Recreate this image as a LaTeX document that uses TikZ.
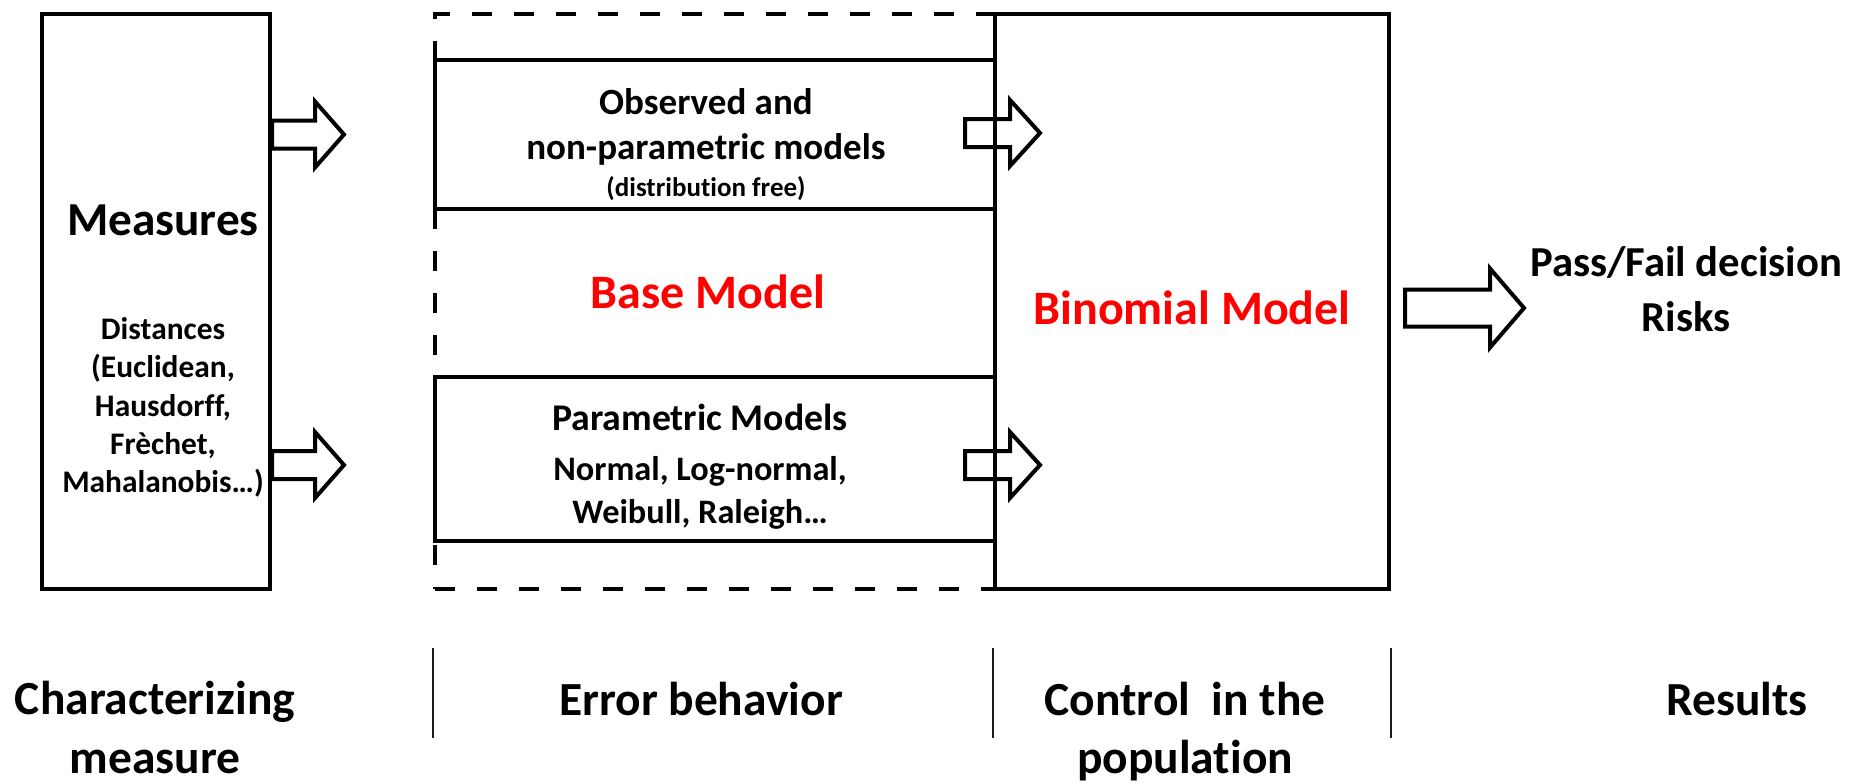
\documentclass[tikz,border=0pt]{standalone}
\usepackage{fontspec,xcolor,tikz}
\setmainfont{Carlito}[Ligatures=NoCommon]
\usetikzlibrary{calc}
\definecolor{bmred}{HTML}{FF0000}
\definecolor{bmgrey}{HTML}{1A1A1A}
\newcommand{\bmfont}[2]{\fontsize{#1}{#2}\selectfont\bfseries}
\newcommand{\fatarrow}[5]{%
  \draw[line width=4,line join=miter] #1 ++(0,#4) -- ++(#2,0) -- ++(0,#5-#4) -- ++(#3-#2,-#5)
    -- ++(-#3+#2,-#5) -- ++(0,#5-#4) -- ++(-#2,0) -- cycle;
}

\begin{document}
\begin{tikzpicture}[x=1pt,y=-1pt]
\useasboundingbox (0,0) rectangle (1856,784);
\node[draw,line width=4,minimum width=228,minimum height=575] (measures) at (156,301.5) {};
\node[draw,line width=4.5,dash pattern=on 20 off 22,minimum width=560,minimum height=575] (errorbox) at (715,301.5) {};
\node[draw,line width=4,minimum width=560,minimum height=149] (observed) at (715,134.5) {};
\node[draw,line width=4,minimum width=560,minimum height=164] (parametric) at (715,459) {};
\node[draw,line width=4,minimum width=394,minimum height=575] (binomial) at (1192,301.5) {};
\node[anchor=base] (meastitle) at (163,235) {\bmfont{47.3}{57}Measures};
\node[align=center,font={\bmfont{31.4}{38.2}}] (distances) at (163,407.5) {Distances\\(Euclidean,\\Hausdorff,\\Frèchet,\\Mahalanobis…)};
\node[align=center,font={\bmfont{37}{45}}] (obstext) at (706,144.5) {Observed and\\non-parametric models\\[-8pt]{\bmfont{27}{33}(distribution free)}};
\node[align=center,font={\bmfont{34.3}{43.5}}] (paramtext) at (700,467) {{\bmfont{37.7}{43.5}Parametric Models}\\[6pt]Normal, Log-normal,\\Weibull, Raleigh…};
\node[anchor=base,text=bmred] (basemodel) at (708,308) {\bmfont{48}{58}Base Model};
\node[anchor=base,text=bmred] (binomtext) at (1192,324) {\bmfont{48}{58}Binomial Model};
\node[align=center,font={\bmfont{42.7}{55}}] (decision) at (1686,289) {Pass/Fail decision\\Risks};
\coordinate (inup) at (965,133);
\coordinate (inlow) at (965,465);
\coordinate (outarr) at (1405,308);
\fatarrow{(measures.east |- observed.center)}{43}{72}{14}{33}
\fatarrow{(measures.east |- inlow)}{43}{72}{14}{33}
\fatarrow{(inup)}{45}{75}{14}{33}
\fatarrow{(inlow)}{45}{75}{14}{33}
\fatarrow{(outarr)}{85}{119}{18.5}{39.5}
\draw[bmgrey,line width=1.5] (errorbox.west |- 0,648) -- (errorbox.west |- 0,738);
\draw[bmgrey,line width=1.5] (binomial.west |- 0,648) -- (binomial.west |- 0,738);
\draw[bmgrey,line width=1.5] (binomial.east |- 0,648) -- (binomial.east |- 0,738);
\node[align=center,font={\bmfont{47.5}{58.5}}] (charlab) at (155,727.5) {Characterizing\\measure};
\node[anchor=base,font={\bmfont{47.5}{58.5}}] (errlab) at (701,715) {Error behavior};
\node[align=center,font={\bmfont{47.5}{58.5}}] (ctrllab) at (1185,731.5) {Control\ \ in the\\population};
\node[anchor=base,font={\bmfont{47.5}{58.5}}] (reslab) at (1737,715) {Results};
\end{tikzpicture}
\end{document}
